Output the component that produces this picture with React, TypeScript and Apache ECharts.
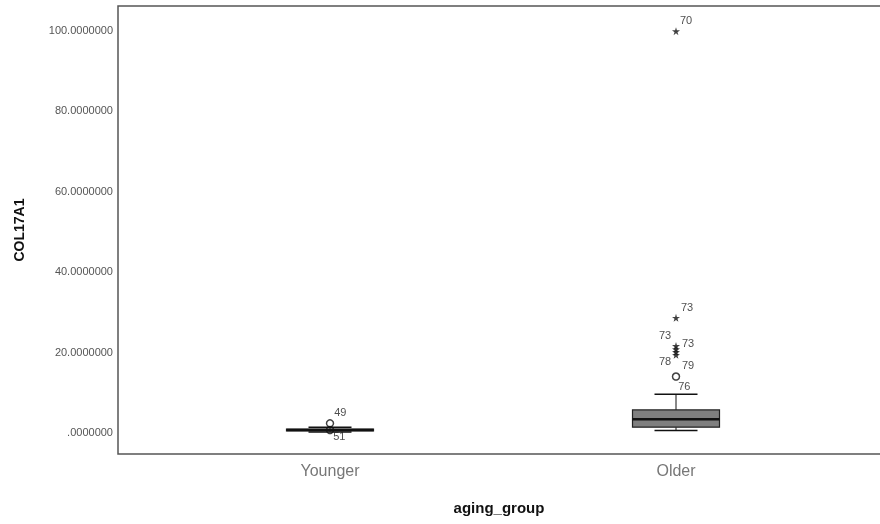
import React, { useEffect, useRef } from "react";
import * as echarts from "echarts";

const categories = ["Younger", "Older"];
// [min whisker, Q1, median, Q3, max whisker]
const boxValues = [
  [0.0, 0.3, 0.5, 0.7, 1.2],
  [0.4, 1.2, 3.2, 5.5, 9.4],
];
const yTicks = [0, 20, 40, 60, 80, 100];
// outliers: [category index, value, case label, symbol kind, label dx, label dy]
const outliers: [number, number, string, string, number, number][] = [
  [0, 2.15, "49", "circle", 11, -11],
  [0, 0.5, "51", "circle", 10, 7],
  [1, 99.7, "70", "star", 10, -11],
  [1, 28.4, "73", "star", 11, -11],
  [1, 21.4, "73", "star", -11, -11],
  [1, 20.6, "73", "star", 12, -6],
  [1, 19.9, "78", "star", -11, 9],
  [1, 19.2, "79", "star", 12, 10],
  [1, 13.8, "76", "circle", 9, 10],
];

const STAR =
  "path://M50,0 L61,35 L98,35 L68,57 L79,91 L50,70 L21,91 L32,57 L2,35 L39,35 Z";

export default function App() {
  const ref = useRef<HTMLDivElement>(null);
  useEffect(() => {
    if (!ref.current) return;
    const chart = echarts.init(ref.current, null, { renderer: "svg" });
    const yMin = -5.47;
    const yMax = 105.97;
    const font = "Liberation Sans, Arial, sans-serif";
    const fmt = (v: number) => (v === 0 ? ".0000000" : v.toFixed(7));

    const boxData = boxValues.map((b, i) => [i, ...b]);
    const scatterData = outliers.map((o) => {
      const size = o[3] === "star" ? 8 : 7;
      return {
        value: [o[0], o[1]],
        symbol: o[3] === "star" ? STAR : "circle",
        symbolSize: size,
        itemStyle:
          o[3] === "star"
            ? { color: "#111", borderWidth: 0 }
            : { color: "rgba(255,255,255,0)", borderColor: "#111", borderWidth: 1.5 },
        label: {
          show: true,
          formatter: o[2],
          position: [size / 2 + o[4], size / 2 + o[5]],
          align: "center",
          verticalAlign: "middle",
          color: "#222",
          textBorderWidth: 0,
          fontSize: 11,
          fontFamily: font,
        },
      };
    });

    chart.setOption({
      animation: false,
      graphic: [
        {
          type: "polyline",
          silent: true,
          shape: {
            points: [
              [890, 6],
              [118, 6],
              [118, 454],
              [890, 454],
            ],
          },
          style: { stroke: "#555", lineWidth: 1.5, fill: "none" },
        },
      ],
      grid: [
        { left: 118, right: 0, top: 6, bottom: 70 },
        { left: 157, right: 31, top: 6, bottom: 70 },
      ],
      xAxis: [
        {
          type: "value",
          gridIndex: 0,
          min: 0,
          max: 1,
          axisLine: { show: false },
          axisTick: { show: false },
          axisLabel: { show: false },
          splitLine: { show: false },
          name: "aging_group",
          nameLocation: "middle",
          nameGap: 46,
          nameTextStyle: {
            fontSize: 15,
            fontWeight: "bold",
            color: "#111",
            fontFamily: font,
          },
        },
        {
          type: "category",
          gridIndex: 1,
          data: categories,
          axisLine: { show: false },
          axisTick: { show: false },
          axisLabel: {
            color: "#777",
            fontSize: 16,
            margin: 8,
            fontFamily: font,
          },
          splitLine: { show: false },
        },
      ],
      yAxis: [
        {
          type: "value",
          gridIndex: 0,
          min: yMin,
          max: yMax,
          axisLine: { show: false },
          axisTick: { show: false },
          splitLine: { show: false },
          axisLabel: {
            customValues: yTicks,
            formatter: (v: number) => fmt(v),
            color: "#555",
            fontSize: 11,
            margin: 5,
            fontFamily: font,
          },
          name: "COL17A1",
          nameLocation: "middle",
          nameGap: 92,
          nameTextStyle: {
            fontSize: 14,
            fontWeight: "bold",
            color: "#111",
            fontFamily: font,
          },
        },
        {
          type: "value",
          gridIndex: 1,
          min: yMin,
          max: yMax,
          show: false,
          splitLine: { show: false },
        },
      ],
      series: [
        {
          type: "custom",
          xAxisIndex: 1,
          yAxisIndex: 1,
          data: boxData,
          renderItem: (params: any, api: any) => {
            const x = api.value(0);
            const vals = [1, 2, 3, 4, 5].map((k) => api.coord([x, api.value(k)]));
            const cx = vals[0][0];
            const bw = 87;
            const cw = 43;
            const [pMin, pQ1, pMed, pQ3, pMax] = vals.map((p: number[]) => p[1]);
            const line = (x1: number, y1: number, x2: number, y2: number, w: number) => ({
              type: "line",
              shape: { x1, y1, x2, y2 },
              style: { stroke: "#111", lineWidth: w },
            });
            return {
              type: "group",
              children: [
                line(cx, pMax, cx, pQ3, 1),
                line(cx, pQ1, cx, pMin, 1),
                line(cx - cw / 2, pMax, cx + cw / 2, pMax, 1.5),
                line(cx - cw / 2, pMin, cx + cw / 2, pMin, 1.5),
                {
                  type: "rect",
                  shape: { x: cx - bw / 2, y: pQ3, width: bw, height: pQ1 - pQ3 },
                  style: { fill: "#7f7f7f", stroke: "#222", lineWidth: 1.2 },
                },
                line(cx - bw / 2, pMed, cx + bw / 2, pMed, 2.5),
              ],
            };
          },
          z: 2,
        },
        {
          type: "scatter",
          xAxisIndex: 1,
          yAxisIndex: 1,
          data: scatterData,
          z: 3,
        },
      ],
    });
    return () => chart.dispose();
  }, []);
  return (
    <div
      ref={ref}
      style={{ position: "fixed", left: 0, top: 0, width: 880, height: 524 }}
    />
  );
}
